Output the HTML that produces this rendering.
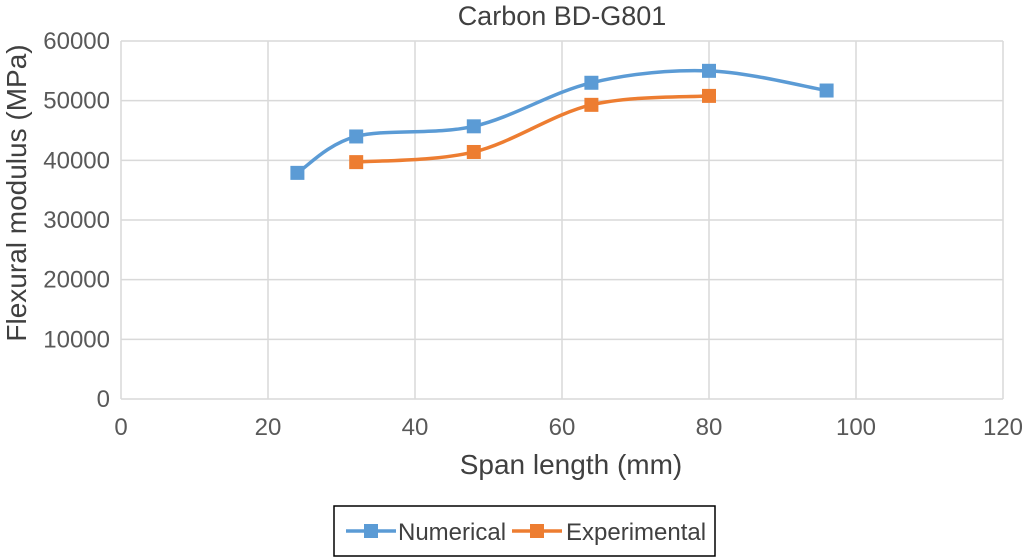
<!DOCTYPE html>
<html><head><meta charset="utf-8"><style>
body{margin:0;background:#fff;width:1024px;height:559px;overflow:hidden;font-family:"Liberation Sans",sans-serif}
</style></head><body>
<svg id="chart" width="1024" height="559" style="position:absolute;left:0;top:0">
<text x="562" y="25" font-size="27" fill="#404040" text-anchor="middle">Carbon BD-G801</text>
<text x="571" y="474" font-size="28" fill="#404040" text-anchor="middle">Span length (mm)</text>
<text transform="translate(26,193) rotate(-90)" font-size="28" fill="#404040" text-anchor="middle">Flexural modulus (MPa)</text>
<g id="grid"></g><g id="ticks"></g><g id="series"></g>
<rect x="334" y="506" width="381" height="50" fill="#fff" stroke="#000" stroke-width="1.5"/>
<g>
<line x1="346" y1="531" x2="396" y2="531" stroke="#5B9BD5" stroke-width="3.5"/>
<rect x="364" y="524" width="14" height="14" fill="#5B9BD5"/>
<text x="398" y="540" font-size="24" fill="#404040">Numerical</text></g>
<g>
<line x1="512" y1="531" x2="562" y2="531" stroke="#ED7D31" stroke-width="3.5"/>
<rect x="530" y="524" width="14" height="14" fill="#ED7D31"/>
<text x="566" y="540" font-size="24" fill="#404040">Experimental</text></g>
</svg>
<script>
const xTicks=[0,20,40,60,80,100,120];
const yTicks=[0,10000,20000,30000,40000,50000,60000];
const numX=[24,32,48,64,80,96];
const numY=[37900,44000,45700,53000,55000,51700];
const expX=[32,48,64,80];
const expY=[39700,41400,49300,50800];
const X0=121,X1=1003,Y0=399,Y1=41;
const sx=v=>X0+(X1-X0)*v/120, sy=v=>Y0-(Y0-Y1)*v/60000;
const NS='http://www.w3.org/2000/svg';
function mk(t,a,p){const e=document.createElementNS(NS,t);for(const k in a)e.setAttribute(k,a[k]);p.appendChild(e);return e;}
const grid=document.getElementById('grid'),ticks=document.getElementById('ticks'),ser=document.getElementById('series');
xTicks.forEach(v=>{
 const l=mk('line',{x1:sx(v),x2:sx(v),y1:Y1,y2:Y0,stroke:'#d9d9d9','stroke-width':1.5},grid);
 
 
 const t=mk('text',{x:sx(v),y:435,'font-size':24,fill:'#595959','text-anchor':'middle'},ticks);t.textContent=v;
 
 
});
yTicks.forEach(v=>{
 const l=mk('line',{x1:X0,x2:X1,y1:sy(v),y2:sy(v),stroke:'#d9d9d9','stroke-width':1.5},grid);
 
 
 const t=mk('text',{x:110,y:sy(v)+8,'font-size':24,fill:'#595959','text-anchor':'end'},ticks);t.textContent=v;
 
 
});
function path(xs,ys){
 const p=xs.map((x,i)=>[sx(x),sy(ys[i])]);let d='M'+p[0];
 for(let i=0;i<p.length-1;i++){
  const a=p[i-1]||p[i],b=p[i],c=p[i+1],e=p[i+2]||c,k=6;
  d+=' C'+(b[0]+(c[0]-a[0])/k)+','+(b[1]+(c[1]-a[1])/k)+' '+(c[0]-(e[0]-b[0])/k)+','+(c[1]-(e[1]-b[1])/k)+' '+c;
 }return d;}
function draw(xs,ys,col,name){
 const pa=mk('path',{d:path(xs,ys),fill:'none',stroke:col,'stroke-width':3.5},ser);
 
 
 xs.forEach((x,i)=>{const r=mk('rect',{x:sx(x)-7,y:sy(ys[i])-7,width:14,height:14,fill:col},ser);
  
  });
}
draw(numX,numY,'#5B9BD5','numerical');
draw(expX,expY,'#ED7D31','experimental');
</script>
</body></html>
